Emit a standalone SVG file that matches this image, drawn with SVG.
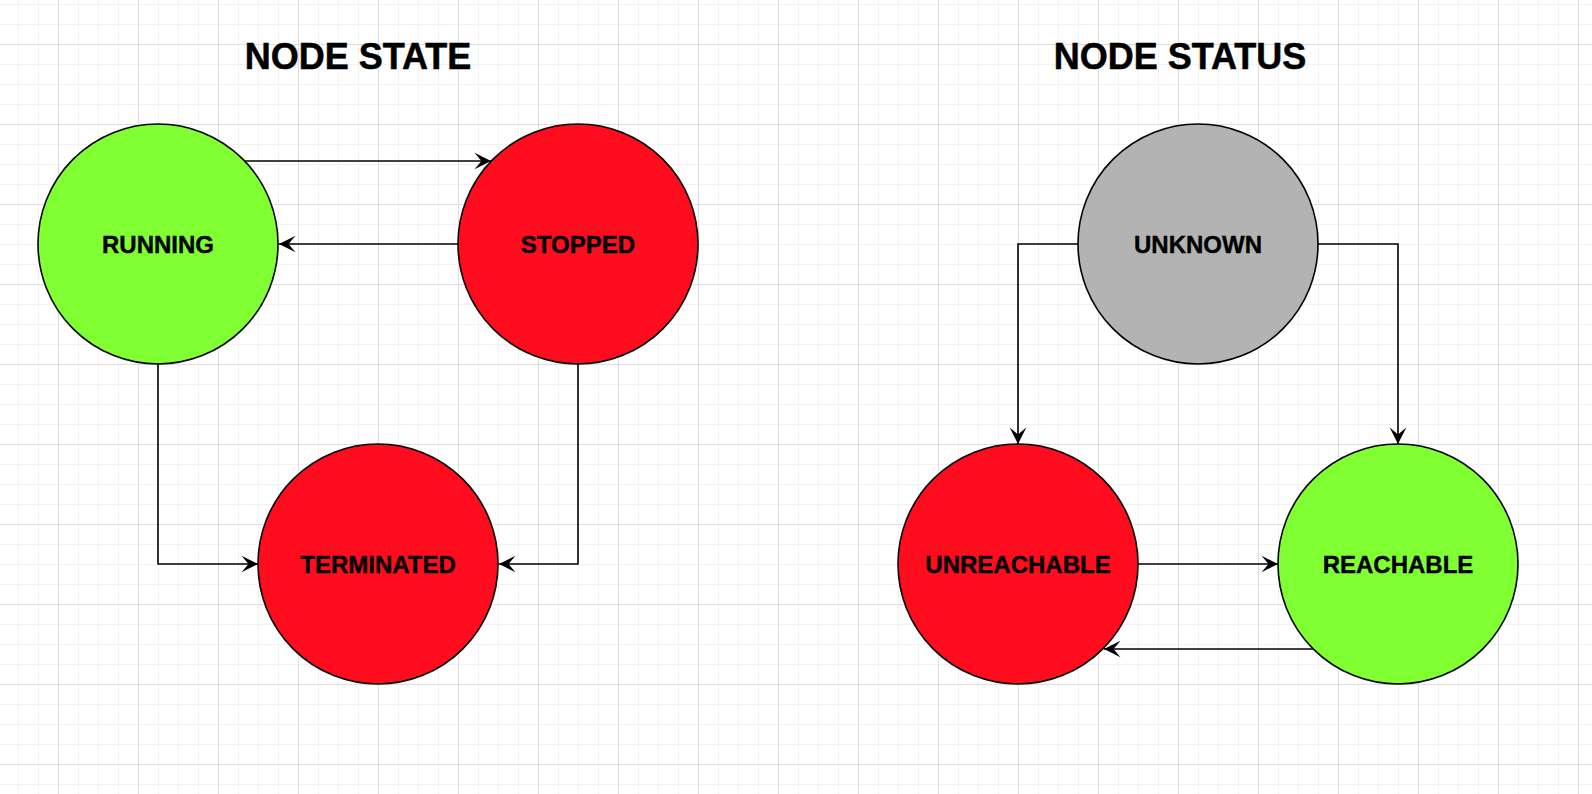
<svg xmlns="http://www.w3.org/2000/svg" width="1592" height="794" viewBox="0 0 1592 794">
<defs>
<pattern id="grid" x="58" y="44" width="80" height="80" patternUnits="userSpaceOnUse">
<rect width="80" height="80" fill="#ffffff"/>
<path d="M20.5,0V80M40.5,0V80M60.5,0V80M0,20.5H80M0,40.5H80M0,60.5H80" stroke="#f2f2f2" stroke-width="1" fill="none"/>
<path d="M0.5,0V80M0,0.5H80" stroke="#dedede" stroke-width="1" fill="none"/>
</pattern>
<marker id="arr" viewBox="-18 -10 19 20" refX="0" refY="0" markerWidth="19" markerHeight="20" markerUnits="userSpaceOnUse" orient="auto">
<path d="M0,0 L-16.5,-8.3 L-9.5,0 L-16.5,8.3 Z" fill="#000000"/>
</marker>
</defs>
<style>
.node{stroke:#000000;stroke-width:1.6}
.green{fill:#80FF33}
.red{fill:#FF0D1F}
.gray{fill:#B3B3B3}
.lbl{font-family:"Liberation Sans",Arial,Helvetica,sans-serif;font-weight:bold;font-size:24px;fill:#000000;stroke:#000000;stroke-width:0.4;text-anchor:middle}
.title{font-family:"Liberation Sans",Arial,Helvetica,sans-serif;font-weight:bold;font-size:36px;fill:#000000;stroke:#000000;stroke-width:0.5;text-anchor:middle}
.edge{fill:none;stroke:#000000;stroke-width:1.6;marker-end:url(#arr)}
</style>
<rect width="1592" height="794" fill="url(#grid)"/>
<g id="titles">
<text class="title" x="358" y="69">NODE STATE</text>
<text class="title" x="1180" y="69">NODE STATUS</text>
</g>
<g id="connectors">
<path class="edge" d="M245,161 H491"/>
<path class="edge" d="M458,244 H279"/>
<path class="edge" d="M158,364 V564 H258"/>
<path class="edge" d="M578,364 V564 H499"/>
<path class="edge" d="M1078,244 H1018 V444"/>
<path class="edge" d="M1318,244 H1398 V444"/>
<path class="edge" d="M1138,564 H1278"/>
<path class="edge" d="M1313,649 H1104"/>
</g>
<g id="running">
<circle class="node green" cx="158" cy="244" r="120"/>
<text class="lbl" x="158" y="252.5">RUNNING</text>
</g>
<g id="stopped">
<circle class="node red" cx="578" cy="244" r="120"/>
<text class="lbl" x="578" y="252.5">STOPPED</text>
</g>
<g id="terminated">
<circle class="node red" cx="378" cy="564" r="120"/>
<text class="lbl" x="378" y="572.5">TERMINATED</text>
</g>
<g id="unknown">
<circle class="node gray" cx="1198" cy="244" r="120"/>
<text class="lbl" x="1198" y="252.5">UNKNOWN</text>
</g>
<g id="unreachable">
<circle class="node red" cx="1018" cy="564" r="120"/>
<text class="lbl" x="1018" y="572.5">UNREACHABLE</text>
</g>
<g id="reachable">
<circle class="node green" cx="1398" cy="564" r="120"/>
<text class="lbl" x="1398" y="572.5">REACHABLE</text>
</g>
</svg>
